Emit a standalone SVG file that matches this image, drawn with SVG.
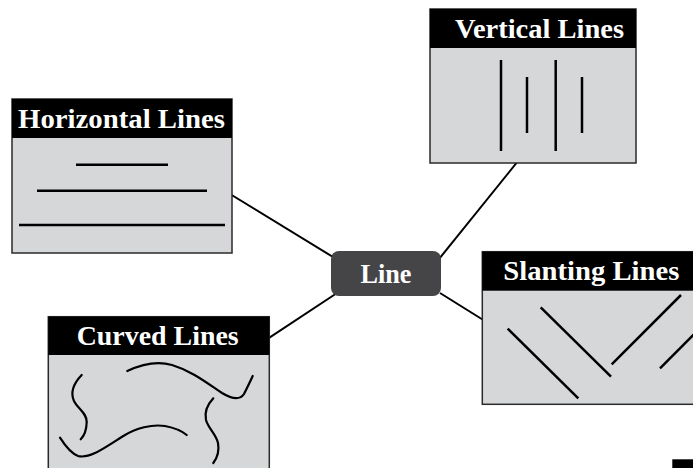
<svg xmlns="http://www.w3.org/2000/svg" width="693" height="468" viewBox="0 0 693 468">
  <style>
    .panel { fill: #d6d7d9; stroke: #2a2a2a; stroke-width: 1.5; }
    .head { fill: #000; }
    .title { font-family: "Liberation Serif", "DejaVu Serif", serif; font-weight: bold; font-size: 27px; fill: #fff; }
    .stroke { fill: none; stroke: #000; stroke-width: 2.5; stroke-linecap: butt; }
    .curve { fill: none; stroke: #000; stroke-width: 2.2; stroke-linecap: round; }
    .link { fill: none; stroke: #000; stroke-width: 2; }
  </style>
  <rect width="693" height="468" fill="#fff"/>

  <g id="connectors">
    <line class="link" x1="231.7" y1="195" x2="333" y2="257"/>
    <line class="link" x1="516.7" y1="162.7" x2="439" y2="259"/>
    <line class="link" x1="268.3" y1="338.3" x2="337" y2="293"/>
    <line class="link" x1="440" y1="293" x2="483.3" y2="320"/>
  </g>

  <g id="horizontal-lines">
    <rect class="panel" x="12" y="99" width="220" height="154"/>
    <rect class="head" x="12" y="99" width="220" height="39"/>
    <text class="title" x="18" y="127.5" textLength="207" lengthAdjust="spacingAndGlyphs">Horizontal Lines</text>
    <line class="stroke" x1="76" y1="164.7" x2="168" y2="164.7"/>
    <line class="stroke" x1="37" y1="190.7" x2="207" y2="190.7"/>
    <line class="stroke" x1="19" y1="225" x2="225" y2="225"/>
  </g>

  <g id="vertical-lines">
    <rect class="panel" x="430" y="9" width="206" height="154"/>
    <rect class="head" x="430" y="9" width="206" height="39"/>
    <text class="title" x="455" y="37.5" textLength="169" lengthAdjust="spacingAndGlyphs">Vertical Lines</text>
    <line class="stroke" x1="501" y1="60" x2="501" y2="151"/>
    <line class="stroke" x1="527" y1="77" x2="527" y2="133"/>
    <line class="stroke" x1="555.7" y1="60" x2="555.7" y2="151"/>
    <line class="stroke" x1="582" y1="77" x2="582" y2="133"/>
  </g>

  <g id="slanting-lines">
    <rect class="panel" x="482.3" y="251.7" width="230" height="152.6"/>
    <rect class="head" x="482.3" y="251.7" width="230" height="39"/>
    <text class="title" x="503.3" y="279.5" textLength="176" lengthAdjust="spacingAndGlyphs">Slanting Lines</text>
    <line class="stroke" x1="507.7" y1="328.7" x2="578.3" y2="398.3"/>
    <line class="stroke" x1="540.7" y1="307.3" x2="611" y2="376.7"/>
    <line class="stroke" x1="611.7" y1="364.3" x2="681" y2="295"/>
    <line class="stroke" x1="660" y1="368.3" x2="700" y2="328.3"/>
  </g>

  <g id="curved-lines">
    <rect class="panel" x="48.3" y="316.7" width="221" height="170"/>
    <rect class="head" x="48.3" y="316.7" width="221" height="38.3"/>
    <text class="title" x="76.7" y="345" textLength="162" lengthAdjust="spacingAndGlyphs">Curved Lines</text>
    <path class="curve" d="M81.7,375 C74,383 70,392 74,401 C78,409 87,413 86.7,422 C86.5,430 84,436 80.7,439.3"/>
    <path class="curve" d="M127.3,371 C140,365 155,360 172,365 C192,371 207,383 222,393 C232,399 240,400 244,394 C247,388 250,382 252.7,376"/>
    <path class="curve" d="M60,437.7 C64,444 70,453 78,456 C90,459 104,448 123.3,436 C136,428 152,424 165,426 C175,428 182,431 186.7,435"/>
    <path class="curve" d="M213.3,398.3 C208,404 204,411 206,420 C208,428 216,434 218,443 C219.5,451 217,458 213.3,463"/>
  </g>

  <g id="line">
    <rect x="331" y="251" width="110" height="45" rx="8" ry="8" fill="#454547"/>
    <text class="title" x="386" y="283.3" text-anchor="middle" font-size="25" textLength="51" lengthAdjust="spacingAndGlyphs">Line</text>
  </g>

  <rect x="672.3" y="459.3" width="21" height="9" fill="#000"/>
</svg>
